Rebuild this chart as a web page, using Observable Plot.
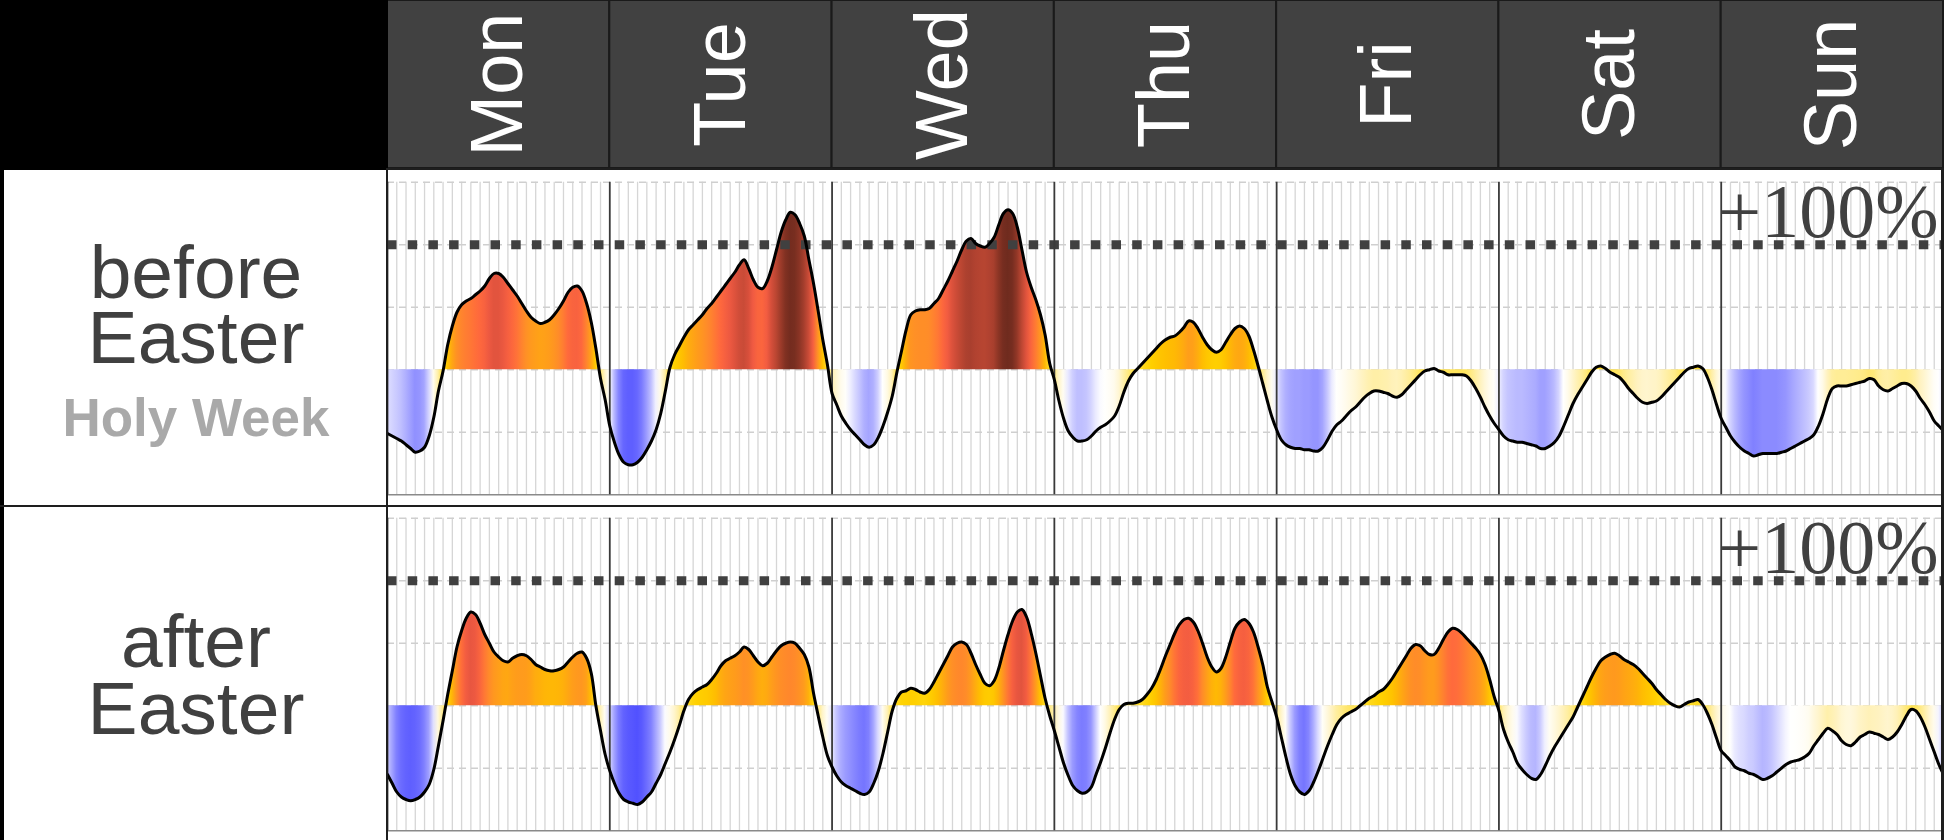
<!DOCTYPE html>
<html>
<head>
<meta charset="utf-8">
<script src="https://cdn.jsdelivr.net/npm/d3@7"></script>
<script src="https://cdn.jsdelivr.net/npm/@observablehq/plot@0.6"></script>
<style>
  html, body { margin: 0; padding: 0; background: #000; }
  #wrap { position: relative; width: 1944px; height: 840px; overflow: hidden; background: #000; }
  #wrap > * { position: absolute; }
  .line { background: #1e1e1e; }
</style>
</head>
<body>
<div id="wrap"></div>
<script>
// ---------------- DATA ----------------
const days = ["Mon", "Tue", "Wed", "Thu", "Fri", "Sat", "Sun"];
const rowLabels = [["before", "Easter"], ["after", "Easter"]];
const rowSubLabels = ["Holy Week", ""];
const refLevel = 100;
const refLabel = "+100%";
const gridLevels = [-50, 0, 50, 100, 150];

// % change vs. normal, every half hour (0:00, 0:30, ... 23:30)
const beforeMon = [-51,-53,-55,-57,-60,-63,-66,-65,-62,-53,-38,-17,-1,20,35,46,52,55,57,60,63,67,73,77,77,74,69,64,59,53,47,42,39,37,38,40,44,49,55,62,66,67,63,53,38,17,-7,-24];
const beforeTue = [-45,-58,-68,-74,-76,-76,-74,-70,-64,-57,-48,-35,-17,2,12,19,26,32,36,40,44,49,53,58,63,68,73,78,84,88,81,72,66,65,71,82,96,110,120,126,124,117,107,88,69,47,24,4];
const beforeWed = [-19,-28,-37,-43,-48,-52,-56,-60,-62,-60,-54,-45,-34,-21,-2,15,32,44,47,48,48,49,53,57,64,71,79,87,96,103,105,101,99,98,101,106,116,125,128,125,114,96,78,66,56,44,28,5];
const beforeThu = [-8,-25,-39,-49,-54,-57,-57,-56,-53,-49,-46,-44,-41,-37,-29,-18,-9,-3,1,5,9,13,17,21,24,26,27,30,34,39,38,33,26,20,16,14,16,22,28,33,35,33,27,16,3,-11,-25,-38];
const beforeFri = [-48,-56,-60,-62,-63,-63,-64,-64,-65,-65,-62,-56,-49,-44,-41,-37,-33,-30,-26,-22,-19,-17,-17,-18,-19,-21,-22,-20,-16,-12,-8,-4,-1,0,1,-1,-2,-4,-4,-4,-4,-5,-9,-15,-22,-30,-37,-43];
const beforeSat = [-48,-53,-56,-57,-58,-58,-59,-60,-61,-63,-63,-61,-58,-53,-45,-36,-27,-20,-14,-8,-2,2,3,1,-2,-4,-6,-10,-15,-19,-23,-26,-27,-26,-25,-22,-18,-14,-10,-6,-2,1,2,3,1,-6,-16,-28];
const beforeSun = [-39,-46,-53,-58,-62,-65,-67,-69,-68,-67,-67,-67,-67,-66,-65,-63,-61,-59,-57,-55,-52,-45,-35,-23,-15,-13,-13,-13,-12,-11,-10,-9,-7,-8,-13,-16,-17,-15,-13,-11,-11,-13,-17,-23,-28,-34,-41,-45];
const beforeEnd = [-49];

const afterMon = [-55,-62,-69,-73,-75,-76,-75,-73,-69,-63,-51,-32,-12,9,28,47,60,70,75,73,66,57,50,43,39,36,35,38,40,41,40,37,33,31,29,28,28,29,31,35,39,42,43,38,26,0,-20,-39];
const afterTue = [-52,-62,-70,-75,-77,-78,-79,-77,-73,-69,-62,-55,-46,-37,-27,-16,-4,5,10,13,15,17,21,26,32,36,38,40,43,47,45,40,35,32,34,39,44,48,50,51,50,46,41,31,10,-8,-25,-40];
const afterWed = [-49,-56,-61,-64,-66,-68,-70,-71,-69,-62,-52,-38,-21,-4,6,11,12,14,13,11,10,13,19,26,33,40,47,50,51,49,42,33,25,18,16,20,30,44,57,68,75,77,71,58,42,24,6,-8];
const afterThu = [-20,-33,-46,-56,-64,-68,-70,-69,-65,-55,-45,-34,-22,-11,-3,1,2,2,3,5,9,14,21,30,40,49,58,65,69,70,67,60,50,39,31,27,30,39,51,62,67,69,66,59,47,33,15,3];
const afterFri = [-9,-25,-41,-55,-64,-69,-71,-68,-61,-52,-42,-32,-23,-15,-10,-7,-5,-3,0,3,6,8,11,13,17,22,28,34,40,46,49,48,44,41,41,46,53,59,62,61,58,54,50,46,41,33,21,7];
const afterSat = [-4,-19,-29,-37,-46,-51,-55,-58,-59,-55,-48,-40,-33,-27,-21,-15,-9,-1,7,15,23,30,36,39,41,42,40,37,35,33,30,26,22,18,13,9,5,2,0,-1,1,3,4,5,1,-6,-15,-26];
const afterSun = [-36,-40,-44,-49,-51,-52,-54,-55,-57,-59,-58,-56,-53,-50,-47,-45,-44,-43,-41,-38,-32,-27,-22,-18,-20,-23,-28,-31,-32,-29,-25,-23,-21,-22,-23,-25,-27,-25,-21,-15,-8,-3,-4,-9,-17,-27,-37,-47];
const afterEnd = [-55];

// colour ramp for the fill (value -> colour)
const colorDomain = [-80, -72, -66, -60, -53, -45, -36, -24, -10, 0, 12, 25, 38, 50, 62, 72, 82, 95, 108, 120, 130];
const colorRange = ["#4d4dff", "#7070ff", "#9090ff", "#b0b0ff", "#d4d4ff", "#ffffff", "#fffbea", "#fff3c4", "#ffeb8a", "#ffdf3a", "#ffd200", "#ffbe00", "#ffa018", "#ff8a2a", "#ff6a3c", "#f05a42", "#d44e3a", "#bd4733", "#a33d2c", "#813122", "#6b291d"];

// ---------------- LAYOUT ----------------
const X0 = 387, PW = 1556, ROW_H = 336, ROW_TOPS = [170, 506];
const HOURS = 24 * days.length;
const yDomain = [-109.4, 159.4];
const wrap = document.getElementById("wrap");

const rows = [
  [...beforeMon, ...beforeTue, ...beforeWed, ...beforeThu, ...beforeFri, ...beforeSat, ...beforeSun, ...beforeEnd],
  [...afterMon, ...afterTue, ...afterWed, ...afterThu, ...afterFri, ...afterSat, ...afterSun, ...afterEnd]
];

let colorScale;
try {
  colorScale = Plot.scale({color: {type: "linear", domain: colorDomain, range: colorRange, clamp: true, interpolate: "rgb"}});
} catch (e) {
  const s = d3.scaleLinear().domain(colorDomain).range(colorRange).clamp(true);
  colorScale = {apply: s};
}

const hourTicks = d3.range(0, HOURS + 1).filter(h => h % 24 !== 0);
const dayTicks = d3.range(0, HOURS + 1, 24);

// ---------------- HEADER ----------------
const header = Plot.plot({
  width: PW, height: 170, margin: 0,
  style: {background: "#000", overflow: "visible"},
  x: {domain: [0, HOURS], range: [0, PW], axis: null},
  y: {domain: [0, 1], range: [168, 0], axis: null},
  marks: [
    Plot.rect(days, {x1: (d, i) => i * 24, x2: (d, i) => (i + 1) * 24, y1: 0, y2: 1, fill: "#414141", stroke: "#1a1a1a", strokeWidth: 2}),
    Plot.text(days, {x: (d, i) => i * 24 + 12, y: 0.5, text: d => d, rotate: -90, fontSize: 74, fill: "#fff",
      fontFamily: "'Liberation Sans', Arial, sans-serif", textAnchor: "middle", lineAnchor: "middle"})
  ]
});
header.style.left = X0 + "px"; header.style.top = "0px";
wrap.appendChild(header);

// ---------------- LEFT LABELS ----------------
const lab = d3.create("svg").attr("width", 388).attr("height", 840).style("left", "0px").style("top", "0px");
lab.append("rect").attr("x", 0).attr("y", 0).attr("width", 388).attr("height", 840).attr("fill", "#000");
ROW_TOPS.forEach((t, r) => {
  lab.append("rect").attr("x", 4).attr("y", t + (r ? 1 : 0)).attr("width", 382).attr("height", ROW_H - 1).attr("fill", "#fff");
});
const labFont = "'Liberation Sans', Arial, sans-serif";
const firstBaseline = [298, 667];
const lineGap = [65, 67];
rowLabels.forEach((lines, r) => {
  const t = lab.append("text").attr("text-anchor", "middle")
    .attr("font-family", labFont).attr("font-size", 75).attr("fill", "#404040");
  lines.forEach((txt, j) => {
    t.append("tspan").attr("x", 196).attr("y", firstBaseline[r] + j * lineGap[r]).text(txt);
  });
  if (rowSubLabels[r]) {
    lab.append("text").attr("x", 196).attr("y", 436).attr("text-anchor", "middle")
      .attr("font-family", labFont).attr("font-weight", "bold").attr("font-size", 53).attr("fill", "#a9a9a9").text(rowSubLabels[r]);
  }
});
wrap.appendChild(lab.node());

// ---------------- ROWS ----------------
rows.forEach((vals, r) => {
  const data = vals.map((v, i) => ({h: i / 2, v}));
  const gid = "grad" + r;
  const plot = Plot.plot({
    width: PW, height: ROW_H, margin: 0,
    style: {background: "#fff", overflow: "visible"},
    x: {domain: [0, HOURS], range: [0, PW], axis: null},
    y: {domain: yDomain, axis: null},
    marks: [
      Plot.ruleX(hourTicks, {y1: -100, y2: 150, stroke: "#d6d6d6", strokeWidth: 1.3}),
      Plot.ruleY(gridLevels, {stroke: "#cfcfcf", strokeWidth: 1.5, strokeDasharray: "7,5"}),
      Plot.ruleY([-100], {stroke: "#8a8a8a", strokeWidth: 1.5}),
      Plot.areaY(data, {x: "h", y: "v", fill: `url(#${gid})`, curve: "catmull-rom"}),
      Plot.ruleY([refLevel], {stroke: "#404040", strokeWidth: 9, strokeDasharray: "9.5,11.2"}),
      Plot.ruleX(dayTicks, {y1: -100, y2: 150, stroke: "#3a3a3a", strokeWidth: 1.8}),
      Plot.lineY(data, {x: "h", y: "v", stroke: "#000", strokeWidth: 3, curve: "catmull-rom"}),
      Plot.text([refLabel], {x: HOURS, y: refLevel, text: d => d, textAnchor: "end", lineAnchor: "bottom",
        dx: -5, dy: -8, fontSize: 76, fill: "#404040", fontFamily: "'Liberation Serif', 'Times New Roman', serif"})
    ]
  });
  // gradient whose stops follow the data values through the colour scale
  const sx = plot.scale("x");
  const defs = d3.select(plot).insert("defs", ":first-child");
  const g = defs.append("linearGradient").attr("id", gid).attr("gradientUnits", "userSpaceOnUse")
    .attr("x1", sx.apply(0)).attr("x2", sx.apply(HOURS)).attr("y1", 0).attr("y2", 0);
  data.forEach(d => g.append("stop").attr("offset", d.h / HOURS).attr("stop-color", colorScale.apply(d.v)));
  plot.style.left = X0 + "px";
  plot.style.top = ROW_TOPS[r] + "px";
  wrap.appendChild(plot);
});

// ---------------- BORDERS ----------------
function line(l, t, w, h) {
  const d = document.createElement("div");
  d.className = "line";
  Object.assign(d.style, {left: l + "px", top: t + "px", width: w + "px", height: h + "px"});
  wrap.appendChild(d);
}
line(386, 168, 2, 672);   // label column / plot border
line(0, 505, 1944, 2);    // row separator
line(386, 168, 1558, 2);  // header bottom
line(1941, 168, 3, 672);  // right edge
</script>
</body>
</html>
